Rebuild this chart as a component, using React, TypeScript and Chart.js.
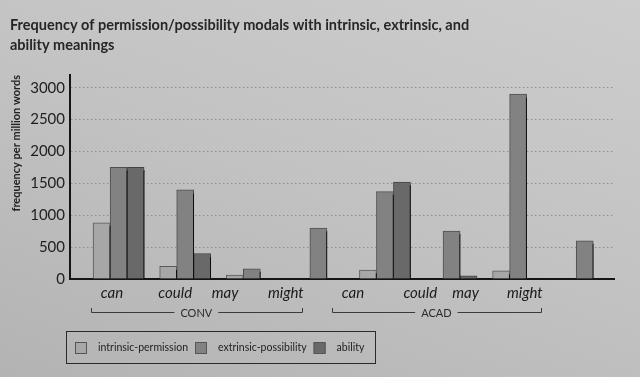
import React, { useEffect, useRef } from "react";
import { Chart, registerables } from "chart.js";

Chart.register(...registerables);

// ---------- data ----------
const categories = ["can", "could", "may", "might", "can", "could", "may", "might"];
const registerNames = ["CONV", "ACAD"];
const registerFirst = [0, 4];
const registerLast = [3, 7];
const seriesNames = ["intrinsic-permission", "extrinsic-possibility", "ability"];
const intrinsicPermission = [880, 200, 60, 0, 140, 0, 130, 0];
const extrinsicPossibility = [1750, 1400, 160, 800, 1370, 750, 2900, 600];
const ability = [1750, 400, 0, 0, 1520, 50, 0, 0];
const yTickValues = [0, 500, 1000, 1500, 2000, 2500, 3000];
const titleLines = [
  "Frequency of permission/possibility modals with intrinsic, extrinsic, and",
  "ability meanings",
];
const yAxisTitle = "frequency per million words";

// ---------- layout / style ----------
const X_MIN = -0.73;
const X_MAX = 7.44;
const Y_MAX = 3200;
const LABEL_POS = [-0.1, 0.85, 1.6, 2.51, 3.52, 4.53, 5.21, 6.1];
const FONT = "Lato, 'Open Sans', sans-serif";
const fills = ["#a7a7a7", "#828282", "#696969"];
const borders = ["#5a5a5a", "#4f4f4f", "#444444"];

const shadowPlugin = {
  id: "barShadow",
  beforeDatasetsDraw(chart: any) {
    const ctx = chart.ctx;
    ctx.save();
    ctx.shadowColor = "rgba(10,10,10,0.95)";
    ctx.shadowOffsetX = 3;
    ctx.shadowOffsetY = 3;
    ctx.shadowBlur = 0;
  },
  afterDatasetsDraw(chart: any) {
    chart.ctx.restore();
  },
};

const bracketPlugin = {
  id: "registerBrackets",
  afterDraw(chart: any) {
    const ctx = chart.ctx;
    const xs = chart.scales.x;
    const y = chart.chartArea.bottom + 33;
    ctx.save();
    ctx.strokeStyle = "#3a3a3a";
    ctx.lineWidth = 1;
    ctx.fillStyle = "#2a2a2a";
    ctx.font = `11px ${FONT}`;
    ctx.textAlign = "center";
    ctx.textBaseline = "middle";
    registerNames.forEach((name, r) => {
      const x0 = xs.getPixelForValue(LABEL_POS[registerFirst[r]]) - 21;
      const x1 = xs.getPixelForValue(LABEL_POS[registerLast[r]]) + 16;
      const mid = (x0 + x1) / 2;
      const tw = ctx.measureText(name).width;
      const gap = tw / 2 + 6;
      ctx.beginPath();
      ctx.moveTo(Math.round(x0) + 0.5, y - 4);
      ctx.lineTo(Math.round(x0) + 0.5, y + 0.5);
      ctx.lineTo(mid - gap, y + 0.5);
      ctx.moveTo(mid + gap, y + 0.5);
      ctx.lineTo(Math.round(x1) + 0.5, y + 0.5);
      ctx.lineTo(Math.round(x1) + 0.5, y - 4);
      ctx.stroke();
      ctx.fillText(name, mid, y + 1);
    });
    ctx.restore();
  },
};

const legendPlugin = {
  id: "boxedLegend",
  afterDraw(chart: any) {
    const ctx = chart.ctx;
    const left = chart.chartArea.left - 4;
    const top = chart.chartArea.bottom + 52;
    const h = 32;
    ctx.save();
    ctx.font = `10.5px ${FONT}`;
    ctx.textBaseline = "middle";
    ctx.textAlign = "left";
    let x = left + 9;
    const cy = top + h / 2 + 1;
    chart.data.datasets.forEach((ds: any, i: number) => {
      ctx.fillStyle = ds.backgroundColor;
      ctx.fillRect(x, cy - 6, 12, 12);
      ctx.strokeStyle = "#555";
      ctx.lineWidth = 1;
      ctx.strokeRect(x + 0.5, cy - 5.5, 11, 11);
      x += 23;
      ctx.fillStyle = "#222";
      ctx.fillText(ds.label, x, cy);
      x += ctx.measureText(ds.label).width + (i < chart.data.datasets.length - 1 ? 7 : 11);
    });
    ctx.strokeStyle = "#2a2a2a";
    ctx.lineWidth = 1;
    ctx.strokeRect(left + 0.5, top + 0.5, Math.round(x - left), h);
    ctx.restore();
  },
};

export default function App() {
  const ref = useRef<HTMLCanvasElement | null>(null);

  useEffect(() => {
    document.body.style.margin = "0";
    const series = [intrinsicPermission, extrinsicPossibility, ability];
    const chart = new Chart(ref.current as HTMLCanvasElement, {
      type: "bar",
      data: {
        datasets: series.map((vals, s) => ({
          label: seriesNames[s],
          data: vals.map((v, i) => ({ x: i, y: v })),
          backgroundColor: fills[s],
          borderColor: borders[s],
          borderWidth: 1,
          barThickness: 17,
        })),
      },
      options: {
        animation: false,
        responsive: true,
        maintainAspectRatio: false,
        layout: { padding: { left: 10, right: 26, top: 0, bottom: 0 } },
        plugins: {
          legend: { display: false },
          tooltip: { enabled: false },
          title: {
            display: true,
            text: titleLines,
            align: "start",
            color: "#262626",
            font: { family: FONT, size: 14.5, weight: "bold", lineHeight: 1.38 },
            padding: { top: 15, bottom: 20 },
          },
        },
        scales: {
          x: {
            type: "linear",
            offset: false,
            min: X_MIN,
            max: X_MAX,
            grid: { display: false, drawTicks: false, offset: false },
            border: { display: true, color: "#151515", width: 2 },
            afterBuildTicks: (scale: any) => {
              scale.ticks = LABEL_POS.map((v) => ({ value: v }));
            },
            afterFit: (scale: any) => {
              scale.height = 98;
            },
            ticks: {
              autoSkip: false,
              maxRotation: 0,
              padding: 5,
              color: "#1a1a1a",
              font: { family: FONT, size: 15, style: "italic" },
              callback: (_v: any, i: number) => categories[i],
            },
          },
          y: {
            min: 0,
            max: Y_MAX,
            grid: {
              drawTicks: false,
              color: "#8f8f8f",
              lineWidth: 1,
            },
            border: { display: true, color: "#151515", width: 2, dash: [1.5, 2.5] },
            afterBuildTicks: (scale: any) => {
              scale.ticks = yTickValues.map((v) => ({ value: v }));
            },
            afterFit: (scale: any) => {
              scale.width = 60;
            },
            ticks: {
              padding: 5,
              color: "#1e1e1e",
              font: { family: FONT, size: 15 },
              callback: (v: any) => String(v),
            },
            title: {
              display: true,
              text: yAxisTitle,
              align: "end",
              color: "#222",
              font: { family: FONT, size: 11, weight: "bold" },
              padding: { top: 0, bottom: 0 },
            },
          },
        },
      } as any,
      plugins: [shadowPlugin, bracketPlugin, legendPlugin],
    });
    return () => chart.destroy();
  }, []);

  return (
    <div
      style={{
        width: 640,
        height: 377,
        position: "relative",
        background: "linear-gradient(200deg, #cdcdcd 0%, #c2c2c2 50%, #b3b3b3 100%)",
      }}
    >
      <canvas ref={ref} />
    </div>
  );
}
